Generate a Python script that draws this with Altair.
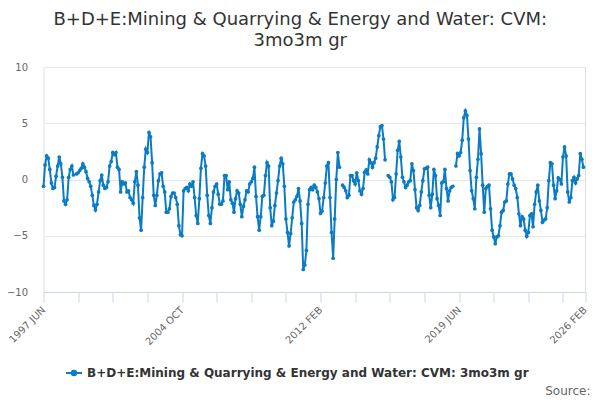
import altair as alt
import pandas as pd

title_lines = ["B+D+E:Mining & Quarrying & Energy and Water: CVM:", "3mo3m gr"]
series_name = "B+D+E:Mining & Quarrying & Energy and Water: CVM: 3mo3m gr"
source_text = "Source:"

# monthly values from 1997 JUN (index 0); None = missing month
growth = [
    -0.6, 1.3, 2.1, 1.9, 0.9, -0.3, -0.8, -0.7, 0.3, 1.2,
    2.0, 1.4, 0.2, -1.9, -2.2, -1.8, 0.2, 0.9, 1.2, 0.4,
    None, 0.5, 0.6, 0.8, 1.0, 1.4, 1.1, 0.7, 0.1, -0.2,
    -0.6, -1.4, -2.3, -2.7, -2.2, -1.1, -0.1, 0.4, -0.5, -0.8,
    -0.7, -0.2, 1.2, 1.6, 2.4, 2.2, 2.4, 1.1, 0.9, -1.1,
    -0.2, -0.4, -0.3, -1.1, -1.0, -1.6, -1.8, -2.1, -0.2, 0.7,
    -0.5, -3.4, -4.5, -1.6, 1.1, 2.7, 2.4, 4.2, 3.8, 1.5,
    -1.4, -2.3, -1.4, -0.1, 0.5, 0.6, -0.6, -1.1, -2.9, -2.9,
    -2.6, -1.5, -1.2, -1.2, -1.6, -2.2, -4.1, -4.9, -5.0, -1.0,
    -0.8, -0.7, -1.0, -0.4, -0.6, -0.2, -1.6, -3.2, -3.9, -1.7,
    1.0, 2.3, 2.1, 1.2, -1.4, -3.2, -3.9, -2.5, -1.1, -0.6,
    -0.4, -1.3, -2.2, -2.2, -1.9, 0.35, 0.35, -0.9, -0.2, -1.8,
    -2.1, -2.9, -1.7, -1.0, -1.2, -2.2, -3.3, -2.4, -1.8, -1.0,
    -1.1, -0.4, -0.2, 0.1, 1.1, -1.5, -3.3, -4.5, -3.3, -1.5,
    -1.4, 0.35, 1.5, 1.2, -2.5, -4.1, -3.7, -2.3, -1.2, -0.1,
    1.2, 1.9, 1.4, -0.6, -3.5, -4.7, -5.9, -4.8, -3.4, -2.0,
    -1.8, -1.5, -0.8, -1.9, -3.9, -8.0, -7.6, -6.3, -2.2, -0.9,
    -0.7, -0.9, -0.5, -0.7, -1.1, -1.7, -3.0, -2.8, -1.6, -0.3,
    1.2, 1.5, -1.6, -4.7, -7.0, -3.5, 0.0, 2.4, 1.1, None,
    -0.5, -0.7, -1.0, -1.6, -1.4, 0.35, 0.35, -0.1, -0.4, 0.6,
    -0.1, -1.0, -1.3, -0.8, 0.65, 0.85, 0.5, 1.75, 1.5, 1.1,
    1.5, 1.9, 2.9, 3.9, 4.7, 4.8, 3.6, 1.75, None, 0.35,
    0.2, -0.2, -1.8, -1.6, 0.5, 2.6, 3.4, 2.0, 0.2, -0.2,
    -0.7, -0.5, -0.2, -0.1, 1.4, 0.8, -0.9, -2.5, -2.75, -2.3,
    -1.1, -0.1, 0.95, 1.0, 1.1, -1.4, -2.5, -1.3, 0.9, 0.35,
    -1.7, -2.3, -3.2, -0.3, -0.2, 0.9, -0.8, -1.9, -1.0, -0.7,
    -0.6, None, 1.2, 2.3, 2.1, 2.4, 3.5, 5.5, 6.1, 5.7,
    3.6, 0.8, -1.0, -1.7, -2.6, 0.2, 1.8, 4.5, 2.3, -0.5,
    -2.9, -0.8, -0.6, -0.5, -2.6, -4.5, -5.1, -5.7, -5.1, -5.0,
    -4.1, -2.9, -2.75, -2.0, -1.9, -0.4, 0.5, 0.5, 0.05, -0.5,
    -0.8, -1.6, -3.05, -4.1, -3.3, -3.5, -4.5, -5.05, -4.7, -3.2,
    -3.05, -4.2, -2.2, -1.1, -0.5, -1.9, -2.75, -3.8, -3.6, -3.5,
    -2.5, -0.1, 1.5, 1.4, -0.5, -1.7, -1.0, 0.15, 0.0, -0.4,
    2.0, 2.9, 2.1, -1.1, -2.0, -1.6, -0.1, 0.2, -0.3, 0.05,
    0.35, 2.3, 1.8, 1.1,
]

x_tick_positions = [0, 22, 44, 66, 88, 110, 132, 154, 176, 198, 220, 242, 264, 286, 308, 330, 344]
x_label_positions = [0, 88, 176, 264, 344]
x_label_texts = ["1997 JUN", "2004 OCT", "2012 FEB", "2019 JUN", "2026 FEB"]
y_tick_values = [-10, -5, 0, 5, 10]

BLUE = "#0a7bc4"
FONT = "DejaVu Sans"

rows = []
seg = 0
for i, v in enumerate(growth):
    if v is None:
        seg += 1
        continue
    rows.append({"m": i, "v": v, "seg": seg, "series": series_name})
df = pd.DataFrame(rows)

label_expr = " : ".join(
    f"datum.value == {p} ? '{t}'" for p, t in zip(x_label_positions, x_label_texts)
) + " : ''"

x_enc = alt.X(
    "m:Q",
    scale=alt.Scale(domain=[0, 344], nice=False, zero=False),
    axis=alt.Axis(
        values=x_tick_positions, labelExpr=label_expr, labelAngle=315,
        labelAlign="right", labelBaseline="middle", labelOverlap=False,
        tickSize=10, tickColor="#ccd6eb", domainColor="#ccd6eb", grid=False,
        labelColor="#666666", labelFontSize=10, labelPadding=6, title=None,
        labelFont=FONT, labelBound=False,
    ),
)
y_enc = alt.Y(
    "v:Q",
    scale=alt.Scale(domain=[-10, 10], nice=False),
    axis=alt.Axis(
        values=y_tick_values, grid=True, gridColor="#e6e6e6", domain=False,
        ticks=False, labelPadding=16, labelColor="#666666", labelFontSize=10,
        title=None, labelFont=FONT,
    ),
)

legend_symbol = "M-1,0L1,0M-0.28,0A0.28,0.28,0,1,1,0.28,0A0.28,0.28,0,1,1,-0.28,0Z"
color_enc = alt.Color(
    "series:N",
    scale=alt.Scale(range=[BLUE]),
    legend=alt.Legend(
        title=None, orient="none", legendX=21.5, legendY=297,
        symbolType=legend_symbol, symbolSize=256, symbolStrokeWidth=2,
        symbolFillColor=BLUE, symbolStrokeColor=BLUE,
        labelFontSize=12, labelFontWeight="bold", labelColor="#333333",
        labelFont=FONT, labelLimit=700, padding=0, symbolOffset=0,
    ),
)

line = alt.Chart(df).mark_line(strokeWidth=2).encode(
    x=x_enc, y=y_enc, color=color_enc, detail="seg:N"
)
points = alt.Chart(df).mark_point(filled=True, size=14, opacity=1).encode(
    x=x_enc, y=y_enc, color=color_enc
)
source = alt.Chart(pd.DataFrame({"t": [source_text]})).mark_text(
    align="right", baseline="middle", fontSize=12, color="#666666", font=FONT
).encode(x=alt.value(547), y=alt.value(324), text="t:N")

chart = alt.layer(line, points, source).properties(
    width=541.5,
    height=225,
    title=alt.TitleParams(
        text=title_lines, fontSize=18, fontWeight="normal", color="#333333",
        anchor="middle", dx=-14, offset=12, lineHeight=21, font=FONT,
    ),
    padding={"left": 35.5, "top": 59, "right": 7, "bottom": 108},
    autosize=alt.AutoSizeParams(type="none"),
).configure_view(stroke=None).configure(font=FONT)

chart.save("out.html", embed_options={"renderer": "svg", "actions": False})
